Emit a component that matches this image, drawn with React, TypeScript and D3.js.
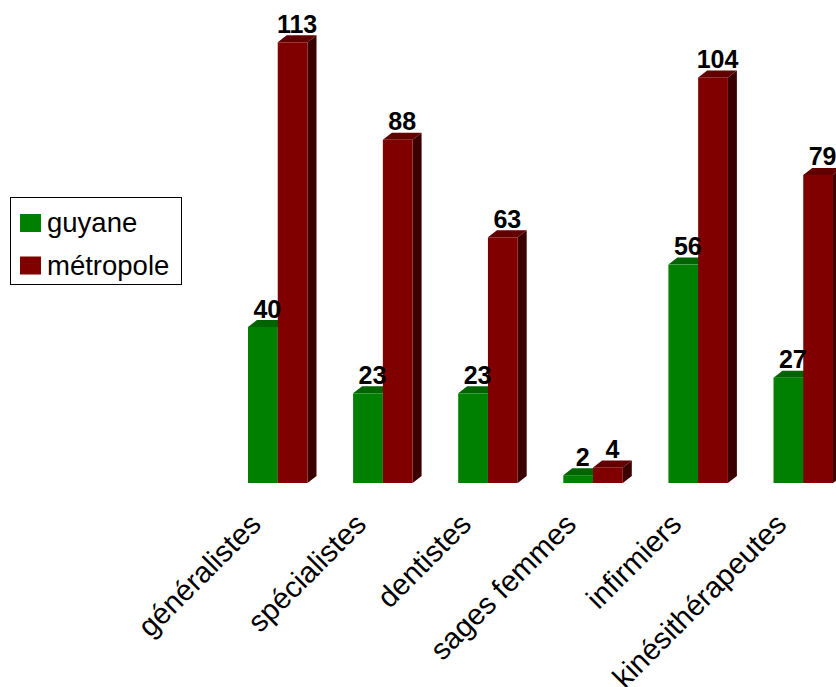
import * as d3 from "d3"

const categories = ["généralistes", "spécialistes", "dentistes", "sages femmes", "infirmiers", "kinésithérapeutes"]
const seriesNames = ["guyane", "métropole"]
const guyane = [40, 23, 23, 2, 56, 27]
const metropole = [113, 88, 63, 4, 104, 79]

const colors = {
  guyane: { front: "#008000", top: "#006400", side: "#004000" },
  métropole: { front: "#800000", top: "#620000", side: "#3a0000" },
}

const W = 836
const H = 687
const DX = 9
const DY = 7
const FONT = "'Liberation Sans', Arial, sans-serif"

export default function App() {
  const x = d3.scaleBand<string>().domain(categories).range([248, 833]).paddingInner(0.434).paddingOuter(0)
  const xs = d3.scaleBand<string>().domain(seriesNames).range([0, x.bandwidth()])
  const y = d3.scaleLinear().domain([0, 120]).range([483, 15])

  const values: Record<string, number[]> = { guyane, métropole: metropole }

  const bars = categories.flatMap((c, i) =>
    seriesNames.map((s) => ({ cat: c, series: s, value: values[s][i] }))
  )

  return (
    <svg
      width={W}
      height={H}
      style={{ position: "absolute", left: 0, top: 0, background: "#fff" }}
      fontFamily={FONT}
    >
      {bars.map((b, i) => {
        const x0 = (x(b.cat) ?? 0) + (xs(b.series) ?? 0)
        const w = xs.bandwidth()
        const yt = y(b.value)
        const yb = y(0)
        const col = colors[b.series as keyof typeof colors]
        return (
          <g key={i}>
            <polygon
              points={`${x0 + w},${yt} ${x0 + w + DX},${yt - DY} ${x0 + w + DX},${yb - DY} ${x0 + w},${yb}`}
              fill={col.side}
            />
            <polygon
              points={`${x0},${yt} ${x0 + DX},${yt - DY} ${x0 + w + DX},${yt - DY} ${x0 + w},${yt}`}
              fill={col.top}
            />
            <rect x={x0} y={yt} width={w} height={yb - yt} fill={col.front} />
          </g>
        )
      })}
      {bars.map((b, i) => {
        const x0 = (x(b.cat) ?? 0) + (xs(b.series) ?? 0)
        return (
          <text
            key={i}
            x={x0 + xs.bandwidth() / 2 + DX / 2}
            y={y(b.value) - DY - 2.5}
            textAnchor="middle"
            fontSize={25}
            fontWeight="bold"
            fill="#000"
          >
            {b.value}
          </text>
        )
      })}
      {categories.map((c) => {
        const cx = (x(c) ?? 0) + x.bandwidth() / 2
        return (
          <text
            key={c}
            transform={`translate(${cx - 15},${y(0) + 43}) rotate(-45)`}
            textAnchor="end"
            fontSize={29.5}
            fill="#000"
          >
            {c}
          </text>
        )
      })}
      <g>
        <rect x={10.5} y={197.5} width={171} height={87} fill="#fff" stroke="#000" strokeWidth={1} />
        {seriesNames.map((s, i) => (
          <g key={s} transform={`translate(20,${214 + i * 42.5})`}>
            <rect width={21} height={18} fill={colors[s as keyof typeof colors].front} />
            <text x={27} y={18} fontSize={27.5} fill="#000">
              {s}
            </text>
          </g>
        ))}
      </g>
    </svg>
  )
}
